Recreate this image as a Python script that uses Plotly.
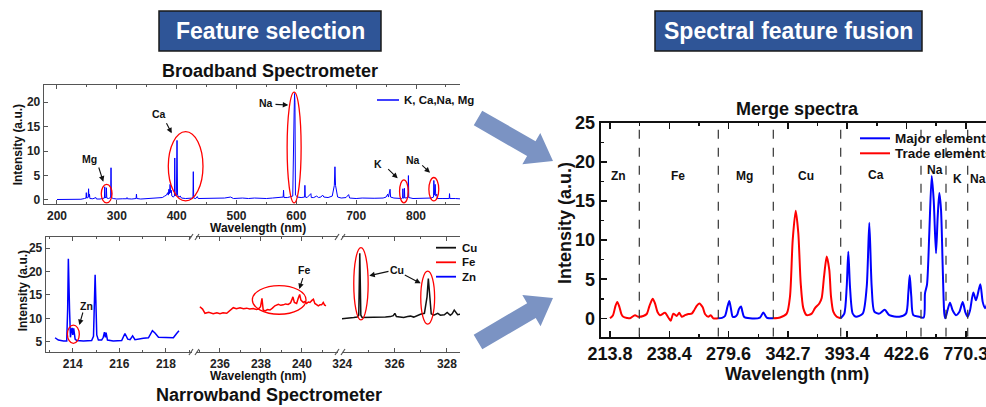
import math
import plotly.graph_objects as go

# ---------------- DATA ----------------
# Broadband spectrometer: (wavelength nm, intensity a.u.)
broadband_points = [
    (200, 0.1), (215, 0.1), (230, 0.12), (240, 0.15), (246, 0.3), (248.5, 0.4), (249, 1.5), (249.5, 0.4),
    (252, 0.5), (252.8, 2.3), (253.4, 0.6), (254.3, 1.2), (255, 0.3), (260, 0.25), (265, 0.5), (266, 0.2),
    (272, 0.2), (276, 0.3), (279.3, 0.4), (279.8, 2.7), (280.3, 0.5), (282, 0.5), (282.6, 2.5), (283.2, 0.4),
    (286, 0.3), (289.7, 0.5), (290.3, 6.6), (290.9, 0.5), (294, 0.3), (300, 0.2), (310, 0.25), (316.5, 0.25),
    (317, 0.5), (317.5, 0.25), (325, 0.2), (332.2, 0.3), (332.8, 1.2), (333.4, 0.3), (340, 0.2), (350, 0.25),
    (360, 0.3), (370, 0.4), (376, 0.5), (380, 0.8), (383, 1.0), (385, 1.5), (386, 1.0), (387, 2.2),
    (388, 1.3), (389, 3.2), (390, 1.5), (391, 2.0), (392, 0.8), (394, 0.6), (396.3, 0.8), (396.8, 8.6),
    (397.4, 0.9), (399.5, 1.0), (400.6, 12.2), (401.5, 1.0), (404, 0.6), (406, 0.8), (408, 0.4), (415, 0.3),
    (420, 0.3), (427.2, 0.4), (427.8, 5.8), (428.4, 0.4), (432, 0.3), (434.5, 0.7), (436, 0.3), (445, 0.3),
    (455, 0.4), (465, 0.3), (480, 0.4), (490, 0.6), (495, 0.3), (510, 0.4), (520, 0.3), (530, 0.4),
    (540, 0.3), (550, 0.3), (560, 0.4), (570, 0.5), (578, 0.6), (578.6, 2.0), (579.3, 0.5), (585, 0.5),
    (594, 0.8), (596.3, 18.0), (597, 21.8), (597.7, 20.0), (598.5, 1.0), (602, 0.6), (608, 0.5), (613.8, 0.6),
    (614.3, 3.0), (614.9, 0.6), (618, 0.5), (624.3, 1.3), (625, 0.5), (629, 0.5), (634, 0.8), (637, 0.5),
    (641, 0.6), (643.9, 1.0), (646, 0.6), (653, 0.5), (660, 0.8), (663.5, 3.0), (664.5, 6.8), (665.5, 3.0),
    (669, 0.6), (675, 0.4), (683, 0.5), (687.4, 1.1), (689, 0.4), (700, 0.3), (710, 0.4), (720, 0.3),
    (730, 0.35), (745, 0.4), (750, 0.6), (752.7, 1.2), (754, 0.6), (756.6, 2.2), (757.5, 0.6), (763, 0.4),
    (770, 0.3), (776, 0.3), (777.6, 0.4), (778, 2.3), (778.5, 0.4), (780, 0.4), (780.6, 2.4), (781.2, 0.4),
    (786.7, 0.5), (787.3, 5.0), (787.9, 0.5), (795, 0.3), (805, 0.3), (815, 0.3), (825, 0.4), (829.3, 0.6),
    (829.8, 4.0), (830.6, 1.0), (832, 3.2), (833, 0.8), (834.8, 1.2), (835.5, 0.3), (845, 0.3), (855.5, 0.3),
    (856, 1.3), (856.5, 0.3), (866, 0.3), (878, 0.2),
]

# Narrowband spectrometer
zn_points = [
    (213.24, 5.9), (213.38, 5.4), (213.60, 5.2), (213.74, 5.2), (213.78, 12.0), (213.81, 22.7), (213.86, 12.0),
    (213.90, 6.0), (213.94, 7.6), (213.97, 8.0), (214.00, 6.5), (214.04, 7.9), (214.10, 5.6), (214.17, 5.3),
    (214.46, 5.2), (214.81, 5.3), (214.89, 6.2), (214.93, 14.0), (214.96, 19.3), (214.99, 14.0), (215.03, 6.5),
    (215.10, 5.4), (215.24, 5.4), (215.31, 6.0), (215.36, 7.1), (215.40, 6.0), (215.43, 7.0), (215.49, 5.4),
    (215.74, 5.2), (216.10, 5.3), (216.24, 6.8), (216.36, 5.6), (216.46, 5.5), (216.57, 6.3), (216.67, 5.5),
    (217.03, 5.8), (217.25, 5.9), (217.42, 7.4), (217.53, 6.9), (217.68, 6.0), (218.03, 5.9), (218.32, 5.9),
    (218.46, 6.8), (218.56, 7.4),
]
fe_points = [
    (235.02, 12.5), (235.15, 12.0), (235.27, 11.1), (235.45, 11.3), (235.67, 11.0), (235.85, 11.2), (236.0, 11.0),
    (236.15, 11.2), (236.33, 11.1), (236.49, 11.8), (236.65, 12.3), (236.8, 12.1), (236.98, 12.3), (237.15, 12.1),
    (237.3, 12.2), (237.45, 12.0), (237.63, 12.1), (237.78, 11.9), (237.87, 12.0), (237.98, 12.5), (238.05, 14.3),
    (238.11, 11.8), (238.2, 11.6), (238.32, 11.9), (238.44, 11.8), (238.56, 12.2), (238.68, 12.7), (238.85, 13.0),
    (238.97, 12.8), (239.09, 12.9), (239.2, 13.1), (239.33, 13.0), (239.44, 13.3), (239.5, 13.9), (239.56, 14.6),
    (239.63, 13.4), (239.74, 13.2), (239.82, 14.3), (239.89, 15.1), (239.95, 13.9), (240.07, 13.4), (240.15, 13.6),
    (240.23, 13.2), (240.31, 13.5), (240.39, 13.4), (240.5, 13.9), (240.56, 14.1), (240.63, 13.2), (240.72, 13.0),
    (240.8, 12.7), (240.88, 12.9), (240.96, 12.9), (241.04, 13.4), (241.1, 12.9), (241.17, 12.7),
]
cu_points = [
    (323.94, 9.9), (324.05, 10.0), (324.19, 10.0), (324.3, 10.1), (324.44, 10.2), (324.57, 10.3), (324.63, 10.7),
    (324.67, 23.9), (324.71, 10.7), (324.76, 10.2), (324.85, 10.2), (324.95, 10.2), (325.1, 10.3), (325.25, 10.2),
    (325.46, 10.3), (325.65, 10.3), (325.84, 10.4), (325.95, 10.6), (326.01, 11.1), (326.07, 10.4), (326.2, 10.3),
    (326.35, 10.2), (326.5, 10.4), (326.61, 10.5), (326.73, 10.3), (326.85, 10.6), (326.99, 10.9), (327.14, 11.1),
    (327.24, 14.6), (327.29, 18.5), (327.35, 14.6), (327.4, 11.0), (327.5, 10.7), (327.58, 11.0), (327.65, 11.1),
    (327.75, 10.7), (327.9, 10.8), (328.01, 11.3), (328.13, 10.7), (328.2, 11.0), (328.28, 11.8), (328.41, 10.8),
    (328.51, 10.9),
]

# Merged spectrum: (position along the merged axis, intensity)
merge_ticks = [0, 59.3, 118.6, 177.9, 237.2, 296.5, 355.8]
merge_tick_text = ["213.8", "238.4", "279.6", "342.7", "393.4", "422.6", "770.3"]
merge_bounds = [29.3, 108.3, 163.3, 230.7, 311, 336, 357.7]
merge_labels = [("Zn", 8.3, 18.2), ("Fe", 68, 18.2), ("Mg", 134, 18.2), ("Cu", 195.7, 18.2),
                ("Ca", 266, 18.3), ("Na", 325.3, 18.9), ("K", 347, 17.8), ("Na", 367.5, 17.8)]
trace_zn_fe = [
    (0, 0), (3, 0.4), (5.5, 1.6), (7.3, 2.1), (9.3, 1.5), (11.5, 0.5), (13.3, 0.2), (17, 0.05), (20, 0),
    (25, 0.4), (28.3, 0.2), (33.3, 0.3), (36.7, 0.55), (39.5, 1.6), (42.7, 2.5), (45, 1.9), (47.5, 0.8),
    (50, 0.4), (55, 0.7), (58.3, 0.1), (60.7, -0.3), (63.3, 0.6), (66.7, 0.3), (69.3, 0.7), (71.7, 0.2),
    (75, 0.4), (78.3, 0.55), (81.7, 0.6), (84, 1.0), (86.7, 1.6), (89.3, 1.9), (92.7, 1.4), (95, 0.55),
    (98.3, 0.2), (100.7, 0.4), (103.3, 0), (108.3, 0),
]
major_mg = [
    (108.3, 0), (112, 0.05), (115, 0.3), (117.5, 1.5), (119.3, 2.2), (121, 1.2), (122.7, 0.2), (125, 0.2),
    (127.3, 0.5), (129, 1.2), (131, 1.5), (132.5, 0.8), (134, 0.2), (140, 0), (150, 0.1), (153.3, 0.75),
    (156.7, 0.1), (163.3, 0),
]
trace_cu = [
    (163.3, 0), (170, 0.1), (176.7, 0.6), (180, 2.8), (182.7, 10), (185.7, 13.75), (188.3, 10.9), (190.7, 4.5),
    (193.3, 1.3), (196.7, 0.4), (201.7, 0.6), (205, 1.3), (209.3, 1.9), (211.7, 2.6), (214, 5.3), (216.7, 7.9),
    (219.3, 6.2), (221, 2.8), (223.3, 0.85), (226.7, 0.2), (230.7, 0),
]
major_ca_na_k = [
    (230.7, 0), (234.3, 0.6), (236.7, 4), (238.3, 8.5), (240, 4), (242.7, 0.6), (246, 0.2), (252.7, 0.6),
    (256.7, 4), (259.3, 12.2), (261.7, 4), (264.3, 0.85), (269.3, 0.6), (274.7, 1.1), (279.3, 0.4), (289.3, 0.2),
    (296, 0.6), (298.3, 3.2), (299.7, 5.5), (301.3, 2.8), (303.3, 0.4), (309.3, 0.2), (313.7, 0.1), (315, 3.2),
    (317, 4.3), (319.3, 10.9), (321.7, 18.2), (323.7, 15.1), (326, 8.3), (327.7, 13), (329.3, 16), (331, 13.9),
    (332.7, 6.6), (334.3, 0.6), (335.3, 0), (337.7, 1.1), (340, 2.0), (342.7, 1.0), (346, 0.4), (349.3, 0.8),
    (352.7, 2.1), (355.3, 0.8), (357.7, 0.2), (360, 1.0), (363.3, 3.3), (366, 2.3), (370.3, 4.35), (372.7, 2.1),
    (375, 1.3), (379.3, 2.8),
]

# ---------------- FIGURE ----------------
OFF = 0                      # page body margin is removed below (post_script)
W, H = 986, 407
FONT = "Liberation Sans, Arial, Helvetica, sans-serif"
BLUE, RED, BLACK = "#0000ff", "#ff0000", "#111111"


def PX(x):
    return (x - OFF) / W


def PY(y):
    return 1 - (y - OFF) / H


def split(pts):
    return [p[0] for p in pts], [p[1] for p in pts]


fig = go.Figure()

x, y = split(broadband_points)
fig.add_trace(go.Scatter(x=x, y=y, mode="lines", line=dict(color=BLUE, width=1), xaxis="x", yaxis="y"))
x, y = split(zn_points)
fig.add_trace(go.Scatter(x=x, y=y, mode="lines", line=dict(color=BLUE, width=1.5), xaxis="x2", yaxis="y2"))
x, y = split(fe_points)
fig.add_trace(go.Scatter(x=x, y=y, mode="lines", line=dict(color=RED, width=1.5), xaxis="x3", yaxis="y2"))
x, y = split(cu_points)
fig.add_trace(go.Scatter(x=x, y=y, mode="lines", line=dict(color=BLACK, width=1.5), xaxis="x4", yaxis="y2"))

for pts, col in [(trace_zn_fe, RED), (major_mg, BLUE), (trace_cu, RED), (major_ca_na_k, BLUE)]:
    x, y = split(pts)
    fig.add_trace(go.Scatter(x=x, y=y, mode="lines", line=dict(color=col, width=2, shape="spline", smoothing=0.7),
                             xaxis="x5", yaxis="y5"))

tick_small = dict(family=FONT, size=12, color="#222", weight="bold")
left_axis = dict(showline=True, linecolor="#555", linewidth=1.3, ticks="inside", ticklen=4, tickcolor="#555",
                 showgrid=False, zeroline=False, tickfont=tick_small, automargin=False,
                 ticklabeloverflow="allow")
right_axis = dict(showline=True, linecolor="#111", linewidth=2, ticks="inside", ticklen=6, tickwidth=1.5,
                  tickcolor="#111", showgrid=False, zeroline=False, automargin=False,
                  ticklabeloverflow="allow",
                  tickfont=dict(family=FONT, size=18, color="#111", weight="bold"))

fig.update_layout(
    template="none",
    width=W, height=H, margin=dict(l=0, r=0, t=0, b=0, pad=0), showlegend=False, autosize=False,
    paper_bgcolor="white", plot_bgcolor="rgba(0,0,0,0)",
    xaxis=dict(left_axis, domain=[PX(44), PX(460)], range=[178.3, 873.5], anchor="y", mirror="ticks",
               tickvals=[200, 300, 400, 500, 600, 700, 800], minor=dict(dtick=50, ticklen=2, ticks="inside")),
    yaxis=dict(left_axis, domain=[PY(204), PY(85)], range=[-0.82, 23.54], anchor="x",
               tickvals=[0, 5, 10, 15, 20]),
    xaxis2=dict(left_axis, domain=[PX(46), PX(192)], range=[212.85, 219.12], anchor="y2", mirror="ticks",
                tickvals=[214, 216, 218], minor=dict(dtick=1, tick0=213, ticklen=2, ticks="inside")),
    xaxis3=dict(left_axis, domain=[PX(196), PX(338)], range=[234.83, 241.76], anchor="y2", mirror="ticks",
                tickvals=[236, 238, 240], minor=dict(dtick=1, tick0=235, ticklen=2, ticks="inside")),
    xaxis4=dict(left_axis, domain=[PX(342), PX(460)], range=[323.99, 328.5], anchor="y2", mirror="ticks",
                tickvals=[324, 326, 328], minor=dict(dtick=1, tick0=323, ticklen=2, ticks="inside")),
    yaxis2=dict(left_axis, domain=[PY(352), PY(237)], range=[2.87, 27.34], anchor="x2",
                tickvals=[5, 10, 15, 20, 25]),
    xaxis5=dict(right_axis, domain=[PX(600.7), 1], range=[-9.3, 376], anchor="y5", mirror="ticks",
                tickvals=merge_ticks, ticktext=merge_tick_text,
                minor=dict(tick0=0, dtick=29.65, ticklen=3, ticks="inside", tickcolor="#111")),
    yaxis5=dict(right_axis, domain=[PY(336.7), PY(122.7)], range=[-2.35, 25], anchor="x5",
                tickvals=[0, 5, 10, 15, 20, 25],
                minor=dict(dtick=2.5, ticklen=3, ticks="inside", tickcolor="#111")),
)


def text(xp, yp, s, size, color="#111", xanchor="center", angle=0):
    fig.add_annotation(x=PX(xp), y=PY(yp), xref="paper", yref="paper", text="<b>%s</b>" % s, showarrow=False,
                       font=dict(family=FONT, size=size, color=color), xanchor=xanchor, yanchor="middle",
                       textangle=angle)


def small_arrow(hx, hy, tx, ty):
    fig.add_annotation(x=PX(hx), y=PY(hy), xref="paper", yref="paper", ax=tx - hx, ay=ty - hy,
                       axref="pixel", ayref="pixel", showarrow=True, arrowhead=2, arrowsize=1,
                       arrowwidth=1.1, arrowcolor="#111", text="")


def pline(x0, y0, x1, y1, color, width=1.3, dash=None):
    fig.add_shape(type="line", xref="paper", yref="paper", x0=PX(x0), y0=PY(y0), x1=PX(x1), y1=PY(y1),
                  line=dict(color=color, width=width, dash=dash))


def ellipse(xref, yref, x0, x1, y0, y1):
    fig.add_shape(type="circle", xref=xref, yref=yref, x0=x0, x1=x1, y0=y0, y1=y1,
                  line=dict(color=RED, width=1.3))


def block_arrow(x0, y0, x1, y1, sw=8.5, hw=18, hl=25, color="#7b93c3"):
    dx, dy = x1 - x0, y1 - y0
    L = math.hypot(dx, dy)
    ux, uy = dx / L, dy / L
    nx, ny = -uy, ux
    bx, by = x1 - ux * hl, y1 - uy * hl
    pts = [(x0 + nx * sw, y0 + ny * sw), (bx + nx * sw, by + ny * sw), (bx + nx * hw, by + ny * hw), (x1, y1),
           (bx - nx * hw, by - ny * hw), (bx - nx * sw, by - ny * sw), (x0 - nx * sw, y0 - ny * sw)]
    path = "M " + " L ".join("%.5f %.5f" % (PX(a), PY(b)) for a, b in pts) + " Z"
    fig.add_shape(type="path", path=path, xref="paper", yref="paper", fillcolor=color, line=dict(width=0))


# Title boxes
for (x0, x1, label) in [(159, 381, "Feature selection"), (655, 922, "Spectral feature fusion")]:
    fig.add_shape(type="rect", xref="paper", yref="paper", x0=PX(x0), x1=PX(x1), y0=PY(51), y1=PY(11),
                  fillcolor="#2f5597", line=dict(color="#1a1a1a", width=1.5))
    text((x0 + x1) / 2, 31, label, 23, color="white")

# Big arrows
block_arrow(478, 118, 553, 161)
block_arrow(478, 342, 553, 298)

# Panel titles
text(270, 71, "Broadband Spectrometer", 18)
text(269, 395, "Narrowband Spectrometer", 18)
text(797.5, 109.3, "Merge spectra", 18)

# Axis titles
text(257.5, 228.3, "Wavelength (nm)", 12)
text(18.3, 145, "Intensity (a.u.)", 12, angle=-90)
text(258, 375.7, "Wavelength (nm)", 12)
text(23.3, 291, "Intensity (a.u.)", 12, angle=-90)
text(796.7, 373.5, "Wavelength (nm)", 18)
text(565, 223, "Intensity (a.u.)", 18, angle=-90)

# Top panel legend
pline(377, 100, 399, 100, BLUE, 1.5)
text(402, 100, "K, Ca,Na, Mg", 11.5, xanchor="left")

# Bottom panel legend
for yy, col, lab in [(247.7, BLACK, "Cu"), (262.3, RED, "Fe"), (276.7, BLUE, "Zn")]:
    pline(436, yy, 456, yy, col, 1.8)
    text(460, yy, lab, 11.5, xanchor="left")

# Right panel legend
pline(860, 138.3, 890, 138.3, BLUE, 2)
pline(860, 153.3, 890, 153.3, RED, 2)
text(893, 138.3, "Major elements", 13.5, xanchor="left")
text(893, 153.3, "Trace elements", 13.5, xanchor="left")

# Axis-break marks on the narrowband panel
for cx in (194, 340):
    for yy in (237, 352):
        pline(cx - 5, yy + 3, cx - 1, yy - 3, "#555", 1.2)
        pline(cx + 1, yy + 3, cx + 5, yy - 3, "#555", 1.2)

# Ellipses on the broadband panel
ellipse("x", "y", 274, 292, -0.6, 3.2)
ellipse("x", "y", 386, 444, -0.2, 14.0)
ellipse("x", "y", 584.6, 608, -0.6, 22.1)
ellipse("x", "y", 772.5, 787, -0.6, 4.1)
ellipse("x", "y", 821.5, 838, -0.2, 4.6)
# Ellipses on the narrowband panel
ellipse("x2", "y2", 213.77, 214.28, 4.7, 8.6)
ellipse("x3", "y2", 237.58, 240.2, 10.9, 17.0)
ellipse("x4", "y2", 324.44, 324.99, 9.7, 25.1)
ellipse("x4", "y2", 327.0, 327.53, 8.8, 20.1)

# Element labels + arrows (left panels)
for lab, xx, yy in [("Mg", 89.3, 159), ("Ca", 159.3, 114), ("Na", 265.7, 103.3), ("K", 378.3, 164.3),
                    ("Na", 413.3, 160), ("Zn", 86, 305.7), ("Fe", 304, 270), ("Cu", 396.7, 270)]:
    text(xx, yy, lab, 10.5)
for hx, hy, tx, ty in [(103.3, 181.7, 98.3, 166), (171.7, 133.3, 165.7, 121.7), (288.3, 105, 274, 104.3),
                       (397.7, 178.3, 386.7, 167.7), (430, 172.7, 420.7, 164), (79.3, 325, 83.3, 311),
                       (299.3, 289, 303.3, 276.7), (369.3, 275.7, 390, 271), (420.7, 283.3, 403.3, 274.3)]:
    small_arrow(hx, hy, tx, ty)

# Merge panel: dashed separators and element labels
for b in merge_bounds:
    fig.add_shape(type="line", xref="x5", yref="y5", x0=b, x1=b, y0=-2.35, y1=24.5,
                  line=dict(color="#333", width=1.2, dash="dash"))
for lab, xx, yy in merge_labels:
    fig.add_annotation(x=xx, y=yy, xref="x5", yref="y5", text="<b>%s</b>" % lab, showarrow=False,
                       font=dict(family=FONT, size=12, color="#111"))

fig.update_traces(hoverinfo="skip", showlegend=False)
fig.write_html("out.html", config={"displayModeBar": False, "staticPlot": True},
               post_script="document.body.style.margin='0px';document.body.style.overflow='hidden';")
